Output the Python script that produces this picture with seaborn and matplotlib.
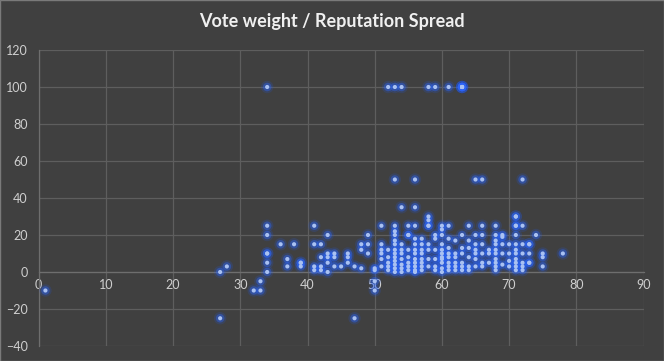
import matplotlib
matplotlib.use("Agg")
import matplotlib.pyplot as plt
import seaborn as sns
import pandas as pd

# ---- data (reputation -> vote weight) ----
reputation = [
    1,
    27, 27, 28, 32, 33, 33,
    34, 34, 34, 34, 34, 34, 34,
    36, 37, 37, 38, 39, 39, 39,
    41, 41, 41, 41, 42, 42, 42, 42,
    43, 43, 43, 43, 43, 44, 44, 44, 45,
    46, 46, 46, 47, 47, 48, 48, 48, 49, 49, 49,
    50, 50, 50, 50,
    51, 51, 51, 51, 51, 51,
    52, 52, 52, 52, 52, 52,
    53, 53, 53, 53, 53, 53, 53, 53, 53, 53, 53, 53, 53, 53,
    54, 54, 54, 54, 54, 54, 54, 54, 54,
    55, 55, 55, 55, 55, 55, 55, 55,
    56, 56, 56, 56, 56, 56, 56, 56, 56, 56, 56, 56,
    57, 57, 57, 57, 57, 57, 57, 57,
    58, 58, 58, 58, 58, 58, 58, 58, 58,
    59, 59, 59, 59, 59, 59, 59,
    60, 60, 60, 60, 60, 60, 60, 60, 60, 60, 60,
    61, 61, 61, 61, 61, 61, 61, 61, 61,
    62, 62, 62, 62, 62, 62,
    63, 63, 63, 63, 63, 63, 63, 63, 63, 63, 63,
    64, 64, 64, 64, 64, 64,
    65, 65, 65, 65, 65, 65, 65,
    66, 66, 66, 66, 66, 66, 66,
    67, 67, 67,
    68, 68, 68, 68, 68, 68, 68, 68, 68, 68,
    69, 69, 69, 69, 69,
    70, 70, 70, 70,
    71, 71, 71, 71, 71, 71, 71, 71, 71, 71, 71, 71,
    72, 72, 72, 72, 72, 72, 72,
    73, 73, 73, 73, 73,
    74,
    75, 75, 75,
    78,
]
vote_weight = [
    -10,
    -25, 0, 3, -10, -10, -5,
    100, 25, 20, 10, 10, 5, 0,
    15, 7, 3, 15, 5, 5, 3,
    25, 15, 3, 1, 15, 8, 3, 1,
    20, 10, 8, 5, 0, 10, 8, 3, 3,
    10, 8, 5, -25, 3, 15, 12, 2, 20, 15, 10,
    2, 1, -5, -10,
    25, 15, 12, 10, 7, 3,
    100, 12, 8, 5, 3, 1,
    100, 50, 25, 22, 20, 17, 15, 12, 10, 8, 6, 4, 2, 0,
    100, 35, 15, 12, 10, 7, 4, 2, 0,
    25, 20, 20, 12, 8, 5, 3, 1,
    50, 35, 25, 18, 15, 12, 10, 7, 5, 3, 1, 0,
    18, 15, 12, 10, 7, 5, 3, 1,
    100, 30, 28, 25, 25, 15, 12, 7, 3,
    100, 20, 18, 12, 7, 3, 1,
    25, 23, 20, 15, 12, 10, 8, 7, 5, 2, 0,
    100, 25, 18, 13, 10, 8, 5, 3, 1,
    17, 10, 8, 5, 3, 1,
    100, 100, 100, 100, 100, 20, 13, 10, 5, 3, 1,
    25, 17, 13, 8, 3, 1,
    50, 20, 15, 12, 10, 7, 3,
    50, 25, 20, 15, 10, 5, 3,
    12, 10, 5,
    25, 20, 17, 15, 12, 10, 7, 5, 3, 1,
    20, 19, 15, 10, 4,
    15, 10, 6, 3,
    30, 30, 25, 25, 20, 15, 12, 10, 7, 5, 3, 1,
    50, 25, 15, 10, 5, 3, 1,
    15, 15, 10, 5, 5,
    20,
    10, 8, 3,
    10,
]
x_ticks = [0, 10, 20, 30, 40, 50, 60, 70, 80, 90]
y_ticks = [-40, -20, 0, 20, 40, 60, 80, 100, 120]
title = "Vote weight / Reputation Spread"

df = pd.DataFrame({"reputation": reputation, "vote_weight": vote_weight})

BG = "#404040"
GRID = "#5e5e5e"
TXT = "#cfcfcf"

sns.set_style("dark", {"axes.facecolor": BG, "figure.facecolor": BG})
plt.rcParams["font.family"] = ["Lato", "DejaVu Sans"]

fig = plt.figure(figsize=(6.64, 3.61), dpi=100, facecolor=BG)
ax = fig.add_axes([38.7 / 664, 1 - 346 / 361, (643.5 - 38.7) / 664, (346 - 50) / 361])
ax.set_facecolor(BG)

# glow layers
sns.scatterplot(data=df, x="reputation", y="vote_weight", ax=ax, s=80, color="#1f5cff",
                alpha=0.16, edgecolor="none", legend=False, zorder=3)
sns.scatterplot(data=df, x="reputation", y="vote_weight", ax=ax, s=38, color="#2a66ff",
                alpha=0.40, edgecolor="none", legend=False, zorder=4)
# core dots
sns.scatterplot(data=df, x="reputation", y="vote_weight", ax=ax, s=9, color="#a9c1f2",
                edgecolor="none", legend=False, zorder=5)

ax.set_xlim(0, 90)
ax.set_ylim(-40, 120)
ax.set_xticks(x_ticks)
ax.set_yticks(y_ticks)
ax.set_xlabel("")
ax.set_ylabel("")

ax.grid(True, color=GRID, linewidth=0.9, zorder=0)
ax.set_axisbelow(True)
for side in ["top", "right"]:
    ax.spines[side].set_visible(False)
ax.spines["bottom"].set_position(("data", 0))
ax.spines["bottom"].set_color("#6e6e6e")
ax.spines["left"].set_color("#6e6e6e")
ax.spines["bottom"].set_linewidth(0.9)
ax.spines["left"].set_linewidth(0.9)
ax.tick_params(axis="both", length=0, colors=TXT, labelsize=9)
ax.tick_params(axis="x", pad=5)
ax.tick_params(axis="y", pad=8)

fig.text(0.5, 1 - 22 / 361, title, ha="center", va="center", color="#f0f0f0",
         fontsize=13, fontweight="bold")

fig.patches.append(plt.Rectangle((0, 0), 1, 1, transform=fig.transFigure, fill=False,
                                 edgecolor="#7a7a7a", linewidth=1.0, zorder=10))

fig.savefig("out.png", dpi=100, facecolor=BG)
